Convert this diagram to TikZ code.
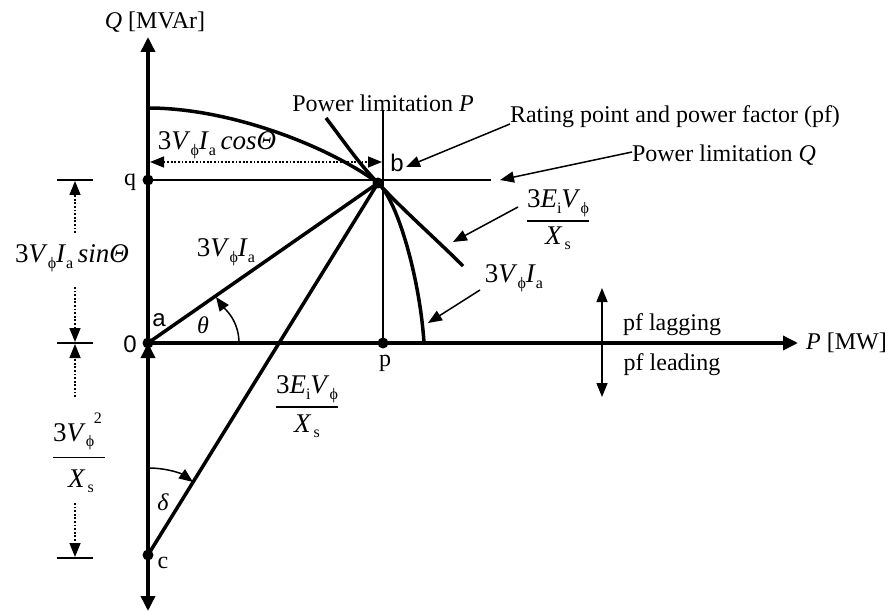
\documentclass[tikz,border=0pt]{standalone}
\usepackage{amsmath}
\usepackage{fontspec}
\setmainfont{Liberation Serif}
\newfontfamily\sansf{Liberation Sans}
\usetikzlibrary{arrows.meta}
\newcommand{\lsub}[1]{\raisebox{-0.45ex}{\fontsize{16}{16}\selectfont #1}}
\newcommand{\hsup}[1]{\raisebox{1.4ex}{\fontsize{16}{16}\selectfont #1}}
\newcommand{\VIa}{3\textit{V}\lsub{ϕ}\textit{I}\lsub{a}}
\newcommand{\EVp}{3\textit{E}\lsub{i}\textit{V}\lsub{ϕ}}
\newcommand{\Xsb}{\textit{X}\kern2pt\lsub{s}}
\newcommand{\myfrac}[3]{$\genfrac{}{}{1.2pt}{0}{\mbox{\raisebox{#1}{#2}}}{\mbox{\raisebox{-#1}{#3}}}$}
\begin{document}
\begin{tikzpicture}[x=1pt,y=-1pt,
  every node/.style={font=\fontsize{24}{28}\selectfont, inner sep=0pt},
  mathlab/.style={font=\fontsize{27}{30}\selectfont},
  thickln/.style={line width=3.5pt},
  thinln/.style={line width=1.5pt},
  headend/.style={-{Triangle[length=14pt,width=11pt]}},
  axishead/.style={-{Triangle[length=15pt,width=14pt]}},
  dotline/.style={line width=1.5pt, dash pattern=on 1.8pt off 1.8pt},
]
\useasboundingbox (0,0) rectangle (891,612);
% key points
\coordinate (O) at (148,343);
\coordinate (Qtop) at (148,37);
\coordinate (Qbot) at (148,611);
\coordinate (Pend) at (798,343);
\coordinate (q) at (148,180);
\coordinate (b) at (378,183);
\coordinate (p) at (383,343);
\coordinate (c) at (148,555);
\coordinate (PLtop) at (383,110);
\coordinate (QLend) at (491,180);
% axes
\draw[thickln, {Triangle[length=15pt,width=14pt]}-{Triangle[length=15pt,width=14pt]}] (Qbot) -- (Qtop);
\draw[thickln, axishead] (O) -- (Pend);
\draw[thickln, axishead] (c) -- (O);
% limitation lines
\draw[thinln] (PLtop) -- (p);
\draw[thinln] (q) -- (QLend);
% curves
\draw[thickln] (148,108) .. controls (230,108) and (328,146) .. (b)
  .. controls (398,201) and (420,280) .. (424,343);
\draw[thickln] (326,118) .. controls (345,143) and (360,165) .. (b)
  .. controls (405,212) and (435,238) .. (463,266);
% vectors
\draw[thickln] (O) -- (b);
\draw[thickln] (c) -- (b);
% angles
\draw[thinln, headend] (239,343) .. controls (239,320) and (224,308) .. (216,297);
\draw[thinln, headend] (148,468) .. controls (168,468) and (182,474) .. (193,482);
% cos dimension
\coordinate (cosL) at (150,162);
\coordinate (cosR) at (382,162);
\draw[dotline, {Triangle[length=14pt,width=11pt]}-{Triangle[length=14pt,width=11pt]}] (cosL) -- (cosR);
% left dimensions
\coordinate (t1a) at (57,180); \coordinate (t1b) at (93,180);
\coordinate (t2a) at (57,343); \coordinate (t2b) at (93,343);
\coordinate (t3a) at (57,558); \coordinate (t3b) at (93,558);
\draw[thinln] (t1a) -- (t1b);
\draw[thinln] (t2a) -- (t2b);
\draw[thinln] (t3a) -- (t3b);
\coordinate (d1s) at (75,233); \coordinate (d1e) at (75,181);
\coordinate (d2s) at (75,287); \coordinate (d2e) at (75,342);
\coordinate (d3s) at (75,397); \coordinate (d3e) at (75,344);
\coordinate (d4s) at (75,503); \coordinate (d4e) at (75,557);
\draw[dotline, headend] (d1s) -- (d1e);
\draw[dotline, headend] (d2s) -- (d2e);
\draw[dotline, headend] (d3s) -- (d3e);
\draw[dotline, headend] (d4s) -- (d4e);
% pf arrow
\coordinate (pfu) at (602,288); \coordinate (pfd) at (602,397);
\draw[thinln, {Triangle[length=14pt,width=11pt]}-{Triangle[length=14pt,width=11pt]}] (pfd) -- (pfu);
% dots
\foreach \pt in {O,q,b,p,c} \fill (\pt) circle[radius=5.5];
% labels
\node (Qlab) at (155,22) {\textit{Q} [MVAr]};
\node[anchor=west] (Plab) at (806,343) {\textit{P} [MW]};
\node[mathlab] (coslab) at (217,145) {\VIa\,\textit{cosΘ}};
\node (PLlab) at (383,103) {Power limitation \textit{P}};
\node (ratlab) at (675,117) {Rating point and power factor (pf)};
\node (QLlab) at (724,155) {Power limitation \textit{Q}};
\node (blab) at (397,163) {\sansf b};
\node (qlab) at (130,182) {q};
\node (alab) at (159,320) {\sansf a};
\node (zlab) at (130,344) {\sansf 0};
\node (plab) at (385,363) {p};
\node (clab) at (163,563) {c};
\node (thlab) at (203,325) {\textit{θ}};
\node (delab) at (163,502) {\textit{δ}};
\node[mathlab] (vialab) at (226,252) {\VIa};
\node[mathlab] (efrac1) at (558,220) {\myfrac{0pt}{\EVp}{\Xsb}};
\node[mathlab] (efrac2) at (307,407) {\myfrac{2pt}{\EVp}{\Xsb}};
\node[mathlab] (vialab2) at (514,278) {\VIa};
\node (lag) at (672,325) {pf lagging};
\node (lead) at (672,365) {pf leading};
\node[mathlab] (sinlab) at (72,258) {\VIa\,\textit{sinΘ}};
\node[mathlab] (vfrac) at (79,453) {\myfrac{6pt}{3\textit{V}\rlap{\lsub{ϕ}}\kern8pt\hsup{2}\kern3pt}{\kern4pt\Xsb}};
% label arrows
\coordinate (r1) at (510,124); \coordinate (r2) at (406,167);
\coordinate (ql1) at (632,152); \coordinate (ql2) at (500,180);
\coordinate (e1) at (518,207); \coordinate (e2) at (453,242);
\coordinate (v1) at (480,290); \coordinate (v2) at (428,323);
\draw[thinln, headend] (r1) -- (r2);
\draw[thinln, headend] (ql1) -- (ql2);
\draw[thinln, headend] (e1) -- (e2);
\draw[thinln, headend] (v1) -- (v2);
\end{tikzpicture}
\end{document}
